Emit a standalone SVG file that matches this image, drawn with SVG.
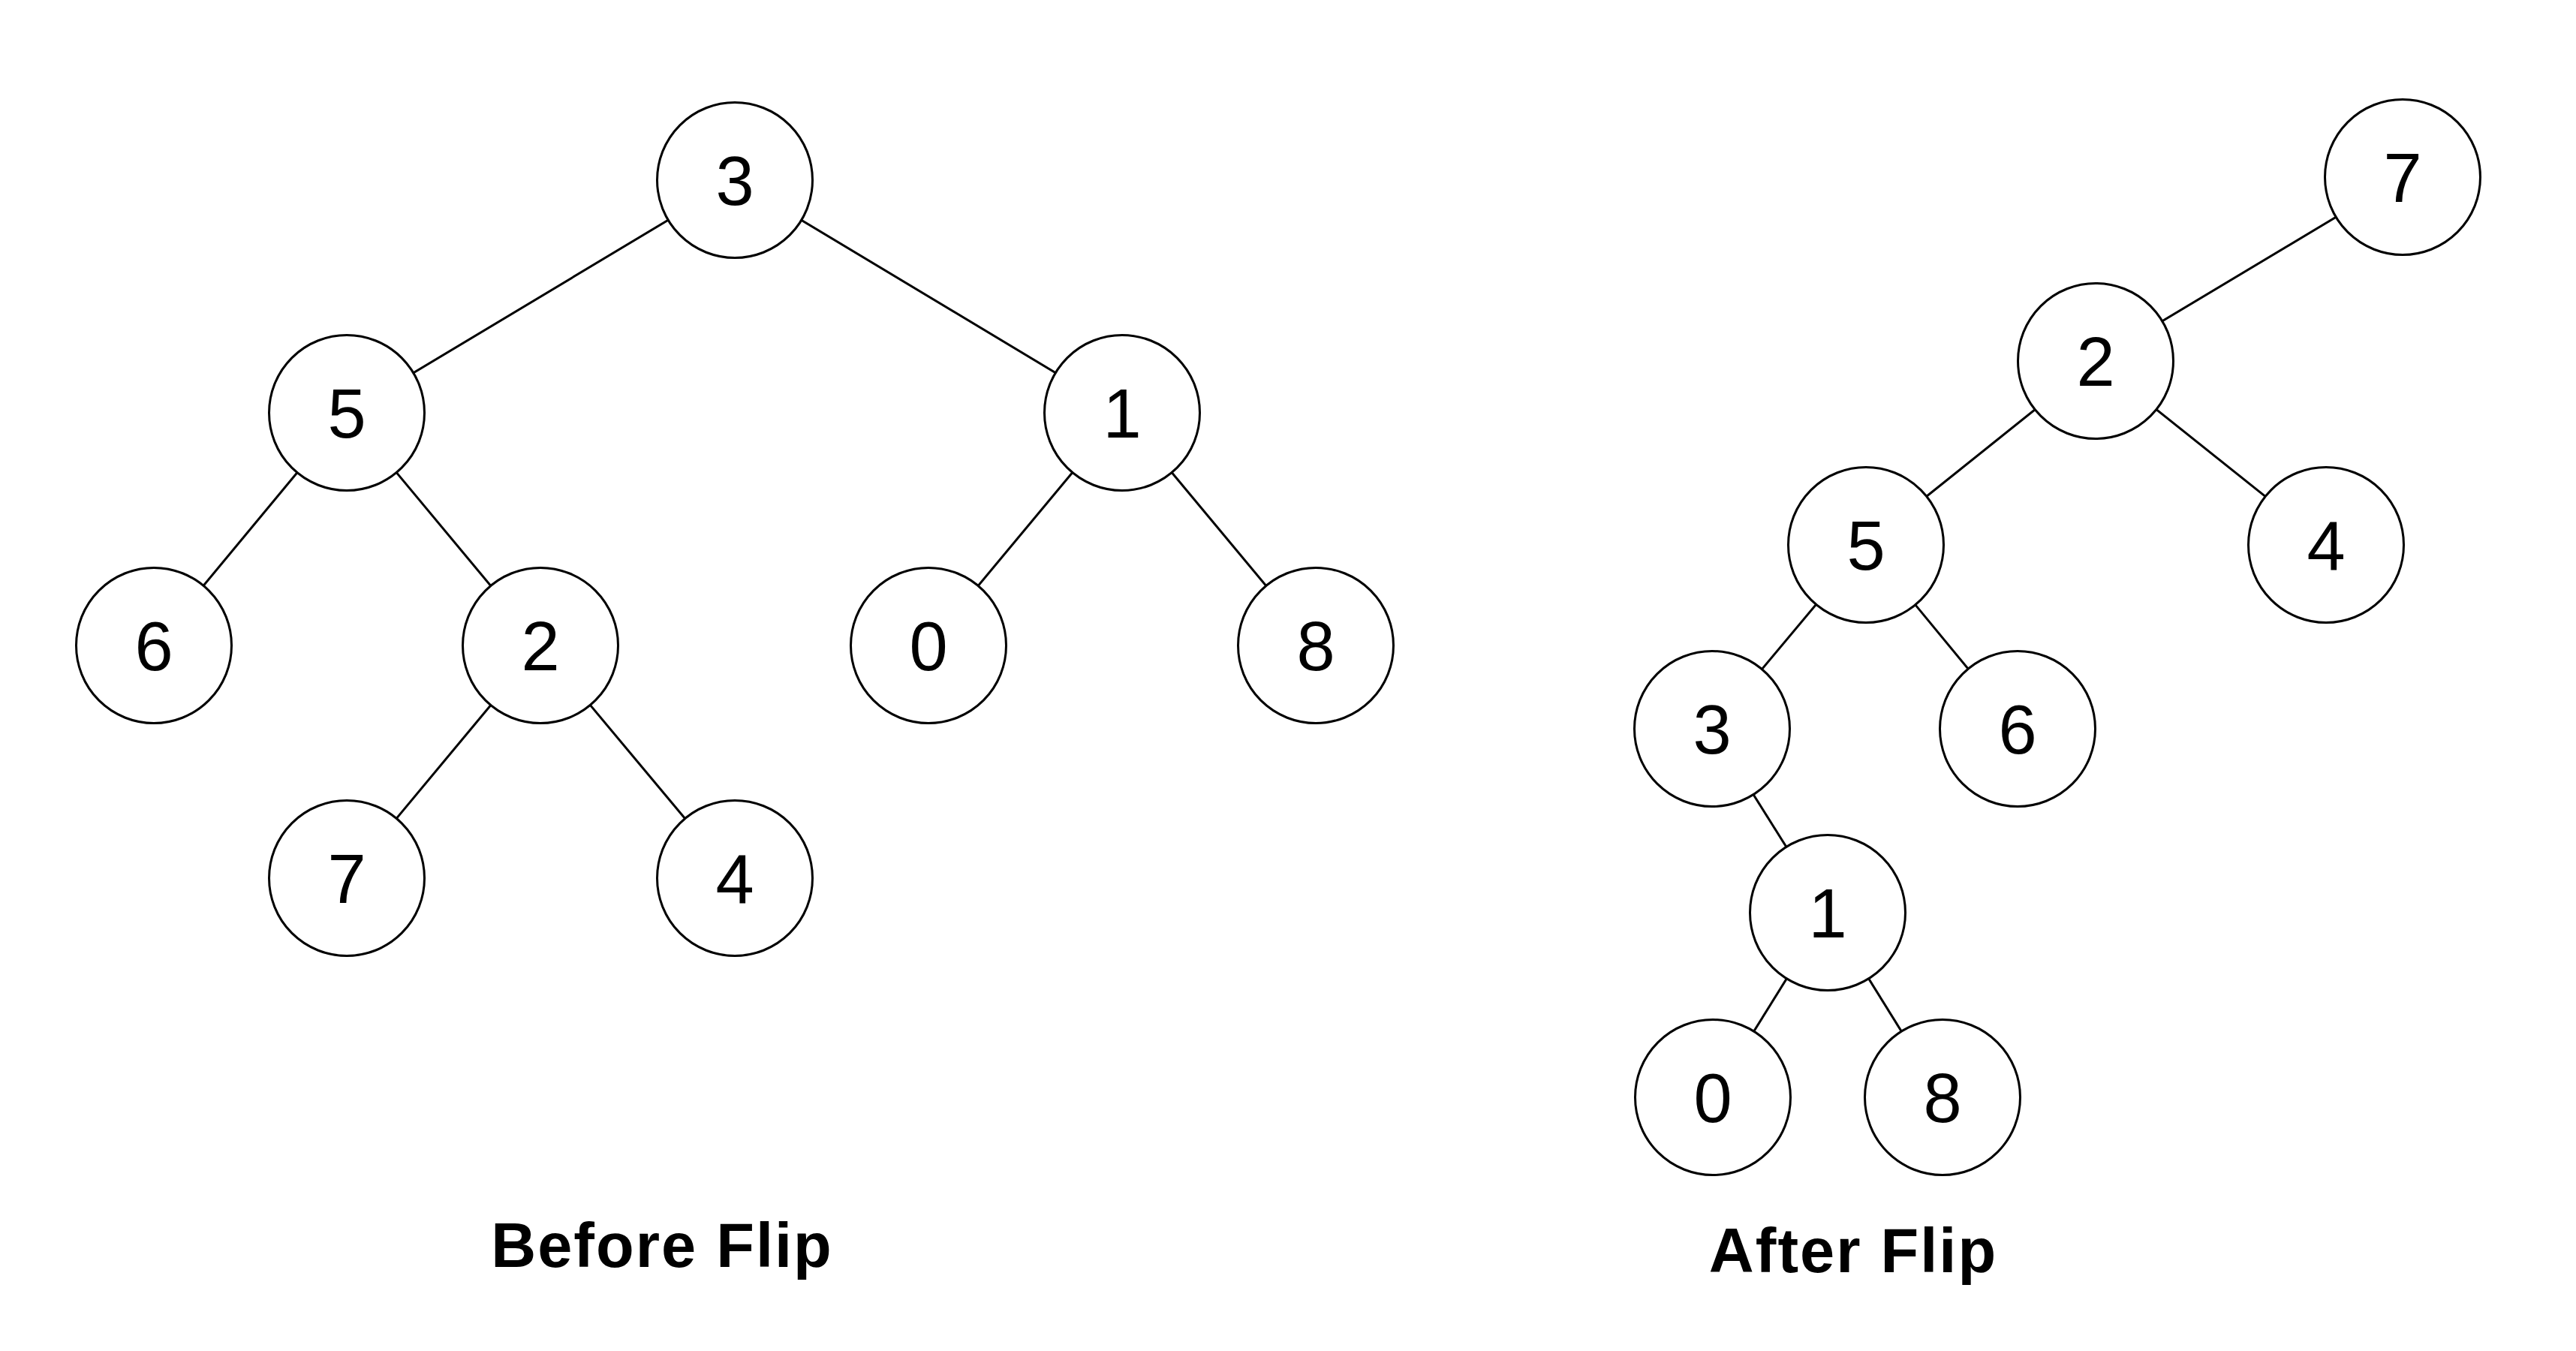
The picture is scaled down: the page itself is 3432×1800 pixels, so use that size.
<svg xmlns="http://www.w3.org/2000/svg" width="3432" height="1800" viewBox="0 0 3432 1800">
<style>
.n{fill:#fff;stroke:#000;stroke-width:3}
.t{font-family:"Liberation Sans",Arial,sans-serif;font-size:92px;text-anchor:middle;fill:#000}
.e{stroke:#000;stroke-width:3}
.cap{font-family:"Liberation Sans",Arial,sans-serif;font-size:83px;font-weight:bold;text-anchor:middle;fill:#000;letter-spacing:2px}
</style>
<rect width="3432" height="1800" fill="#fff"/>
<g id="connectors">
<line class="e" x1="979" y1="240" x2="462" y2="550"/>
<line class="e" x1="979" y1="240" x2="1495" y2="550"/>
<line class="e" x1="462" y1="550" x2="205" y2="860"/>
<line class="e" x1="462" y1="550" x2="720" y2="860"/>
<line class="e" x1="1495" y1="550" x2="1237" y2="860"/>
<line class="e" x1="1495" y1="550" x2="1753" y2="860"/>
<line class="e" x1="720" y1="860" x2="462" y2="1170"/>
<line class="e" x1="720" y1="860" x2="979" y2="1170"/>
<line class="e" x1="3201" y1="236" x2="2792" y2="481"/>
<line class="e" x1="2792" y1="481" x2="2486" y2="726"/>
<line class="e" x1="2792" y1="481" x2="3099" y2="726"/>
<line class="e" x1="2486" y1="726" x2="2281" y2="971"/>
<line class="e" x1="2486" y1="726" x2="2688" y2="971"/>
<line class="e" x1="2281" y1="971" x2="2435" y2="1216"/>
<line class="e" x1="2435" y1="1216" x2="2282" y2="1462"/>
<line class="e" x1="2435" y1="1216" x2="2588" y2="1462"/>
</g>
<g id="b3"><circle class="n" cx="979" cy="240" r="103.5"/><text class="t" x="979" y="273">3</text></g>
<g id="b5"><circle class="n" cx="462" cy="550" r="103.5"/><text class="t" x="462" y="583">5</text></g>
<g id="b1"><circle class="n" cx="1495" cy="550" r="103.5"/><text class="t" x="1495" y="583">1</text></g>
<g id="b6"><circle class="n" cx="205" cy="860" r="103.5"/><text class="t" x="205" y="893">6</text></g>
<g id="b2"><circle class="n" cx="720" cy="860" r="103.5"/><text class="t" x="720" y="893">2</text></g>
<g id="b0"><circle class="n" cx="1237" cy="860" r="103.5"/><text class="t" x="1237" y="893">0</text></g>
<g id="b8"><circle class="n" cx="1753" cy="860" r="103.5"/><text class="t" x="1753" y="893">8</text></g>
<g id="b7"><circle class="n" cx="462" cy="1170" r="103.5"/><text class="t" x="462" y="1203">7</text></g>
<g id="b4"><circle class="n" cx="979" cy="1170" r="103.5"/><text class="t" x="979" y="1203">4</text></g>
<g id="a7"><circle class="n" cx="3201" cy="236" r="103.5"/><text class="t" x="3201" y="269">7</text></g>
<g id="a2"><circle class="n" cx="2792" cy="481" r="103.5"/><text class="t" x="2792" y="514">2</text></g>
<g id="a5"><circle class="n" cx="2486" cy="726" r="103.5"/><text class="t" x="2486" y="759">5</text></g>
<g id="a4"><circle class="n" cx="3099" cy="726" r="103.5"/><text class="t" x="3099" y="759">4</text></g>
<g id="a3"><circle class="n" cx="2281" cy="971" r="103.5"/><text class="t" x="2281" y="1004">3</text></g>
<g id="a6"><circle class="n" cx="2688" cy="971" r="103.5"/><text class="t" x="2688" y="1004">6</text></g>
<g id="a1"><circle class="n" cx="2435" cy="1216" r="103.5"/><text class="t" x="2435" y="1249">1</text></g>
<g id="a0"><circle class="n" cx="2282" cy="1462" r="103.5"/><text class="t" x="2282" y="1495">0</text></g>
<g id="a8"><circle class="n" cx="2588" cy="1462" r="103.5"/><text class="t" x="2588" y="1495">8</text></g>
<text class="cap" x="882" y="1688">Before Flip</text>
<text class="cap" x="2469" y="1695">After Flip</text>
</svg>
